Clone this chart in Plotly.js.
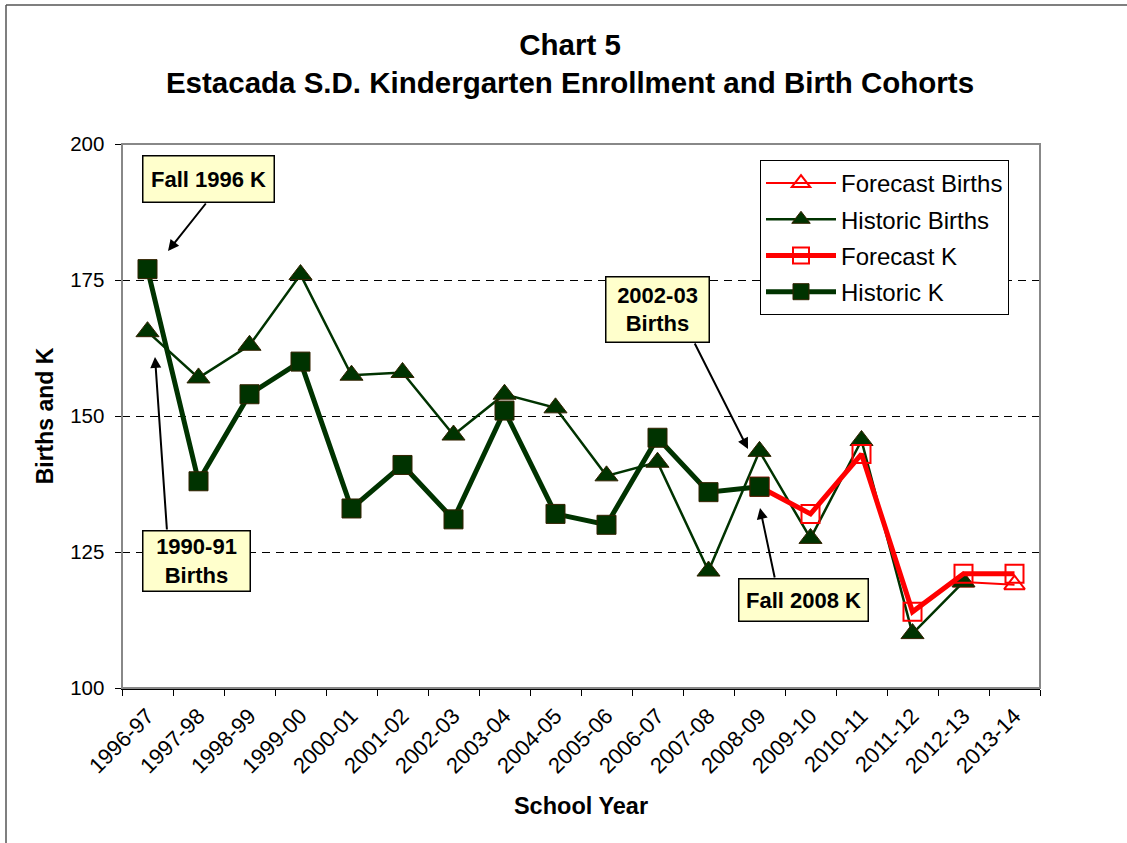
<!DOCTYPE html>
<html>
<head>
<meta charset="utf-8">
<script src="https://cdn.plot.ly/plotly-3.0.1.min.js"></script>
<style>
  html, body { margin: 0; padding: 0; background: #ffffff; }
  #chart { width: 1127px; height: 843px; }
</style>
</head>
<body>
<div id="chart"></div>
<script>
// ---- Data ----
const schoolYears = ['1996-97','1997-98','1998-99','1999-00','2000-01','2001-02','2002-03','2003-04','2004-05','2005-06','2006-07','2007-08','2008-09','2009-10','2010-11','2011-12','2012-13','2013-14'];
const forecastBirths = [null,null,null,null,null,null,null,null,null,null,null,null,null,null,null,null,119.5,119];
const historicBirths = [165.5,157,163,176,157.5,158,146.5,154,151.5,139,141.5,121.5,143.5,127.5,145.5,110,119.5,null];
const forecastK = [null,null,null,null,null,null,null,null,null,null,null,null,137,132,143,114,121,121];
const historicK = [177,138,154,160,133,141,131,151,132,130,146,136,137,null,null,null,null,null];
const yTicks = [100,125,150,175,200];

// ---- Layout helpers (plot area in pixels) ----
const W = 1127, H = 843;
const PL = 122, PR = 1040, PT = 144, PB = 688;
const px = x => (x - PL) / (PR - PL);
const py = y => (PB - y) / (PB - PT);

const FONT = 'Liberation Sans, Arial, Helvetica, sans-serif';
const GREEN = '#003300';
const RED = '#FF0000';

const traces = [
  {
    name: 'Forecast Births', x: schoolYears, y: forecastBirths, type: 'scatter', mode: 'lines+markers',
    line: {color: RED, width: 2}, legendgroup: 'a',
    marker: {symbol: 'triangle-up-open', size: 18, color: RED, line: {color: RED, width: 2}},
    connectgaps: false
  },
  {
    name: 'Historic Births', x: schoolYears, y: historicBirths, type: 'scatter', mode: 'lines+markers',
    line: {color: GREEN, width: 2.5}, legendgroup: 'b',
    marker: {symbol: 'triangle-up', size: 20, color: GREEN, line: {color: '#332200', width: 1}}
  },
  {
    name: 'Forecast K', x: schoolYears, y: forecastK, type: 'scatter', mode: 'lines+markers',
    line: {color: RED, width: 5}, legendgroup: 'c',
    marker: {symbol: 'square-open', size: 18, color: RED, line: {color: RED, width: 2}}
  },
  {
    name: 'Historic K', x: schoolYears, y: historicK, type: 'scatter', mode: 'lines+markers',
    line: {color: GREEN, width: 5}, legendgroup: 'd',
    marker: {symbol: 'square', size: 19, color: GREEN, line: {color: '#332200', width: 1}}
  }
];

function box(text, cx, cy, w, h) {
  return {
    xref: 'paper', yref: 'paper', x: px(cx), y: py(cy), xanchor: 'center', yanchor: 'middle',
    text: '<b>' + text + '</b>', showarrow: false, align: 'center',
    font: {family: FONT, size: 22, color: '#000'},
    bgcolor: '#FFFFCC', bordercolor: '#000', borderwidth: 1.5, borderpad: 1,
    width: w, height: h
  };
}
function arrow(tx, ty, hx, hy) {
  return {
    xref: 'paper', yref: 'paper', x: px(hx), y: py(hy), ax: tx - hx, ay: ty - hy,
    axref: 'pixel', ayref: 'pixel', text: '', showarrow: true,
    arrowhead: 2, arrowsize: 1.1, arrowwidth: 2, arrowcolor: '#000', standoff: 0
  };
}

const layout = {
  width: W, height: H,
  paper_bgcolor: '#ffffff', plot_bgcolor: '#ffffff',
  margin: {l: PL, r: W - PR, t: PT, b: H - PB, pad: 0},
  font: {family: FONT, color: '#000'},
  title: {
    text: '<b>Chart 5<br>Estacada S.D. Kindergarten Enrollment and Birth Cohorts</b>',
    font: {family: FONT, size: 29.5, color: '#000'},
    xref: 'container', yref: 'container', x: 570 / W, xanchor: 'center', y: 1 - 55 / H, yanchor: 'top'
  },
  xaxis: {
    type: 'category', range: [-0.5, 17.5], automargin: false,
    tickson: 'boundaries', ticks: 'outside', ticklen: 6, tickwidth: 1, tickcolor: '#000',
    tickangle: -45, tickfont: {family: FONT, size: 22, color: '#000'}, ticklabelstandoff: 5,
    showline: true, linecolor: '#000', linewidth: 1.5, showgrid: false, zeroline: false,
    title: {text: '<b>School Year</b>', font: {family: FONT, size: 23.5, color: '#000'}, standoff: 20}
  },
  yaxis: {
    range: [100, 200], tickvals: yTicks, automargin: false,
    ticks: 'outside', ticklen: 6, tickwidth: 1, tickcolor: '#000', ticklabelstandoff: 6,
    tickfont: {family: FONT, size: 20.5, color: '#000'},
    showline: true, linecolor: '#333', linewidth: 1.5, zeroline: false,
    showgrid: true, gridcolor: '#000', gridwidth: 1, griddash: '8px,6px',
    title: {text: '<b>Births and K</b>', font: {family: FONT, size: 23, color: '#000'}, standoff: 10}
  },
  showlegend: true,
  legend: {
    x: px(760), y: py(160), xanchor: 'left', yanchor: 'top',
    bgcolor: '#ffffff', bordercolor: '#000', borderwidth: 1,
    font: {family: FONT, size: 24, color: '#000'},
    traceorder: 'grouped', tracegroupgap: 2, itemwidth: 70
  },
  shapes: [
    {type: 'rect', xref: 'paper', yref: 'paper', x0: 0, x1: 1, y0: 0, y1: 1,
     line: {color: '#888', width: 2}, layer: 'above'},
    {type: 'line', xref: 'paper', yref: 'paper', x0: px(6), x1: px(6), y0: py(5), y1: py(900),
     line: {color: '#555', width: 1.5}},
    {type: 'line', xref: 'paper', yref: 'paper', x0: px(6), x1: px(1200), y0: py(5), y1: py(5),
     line: {color: '#555', width: 1.5}}
  ],
  annotations: [
    arrow(207, 202, 168, 251),
    arrow(167, 531, 155, 357),
    arrow(694, 342, 748, 449),
    arrow(775, 579, 760, 508),
    box('Fall 1996 K', 208.5, 179, 128, 43),
    box('1990-91<br>Births', 196.5, 561, 104, 57),
    box('2002-03<br>Births', 657, 309, 100, 62),
    box('Fall 2008 K', 803, 599.5, 126, 39)
  ]
};

Plotly.newPlot('chart', traces, layout, {displayModeBar: false, staticPlot: true});
</script>
</body>
</html>
